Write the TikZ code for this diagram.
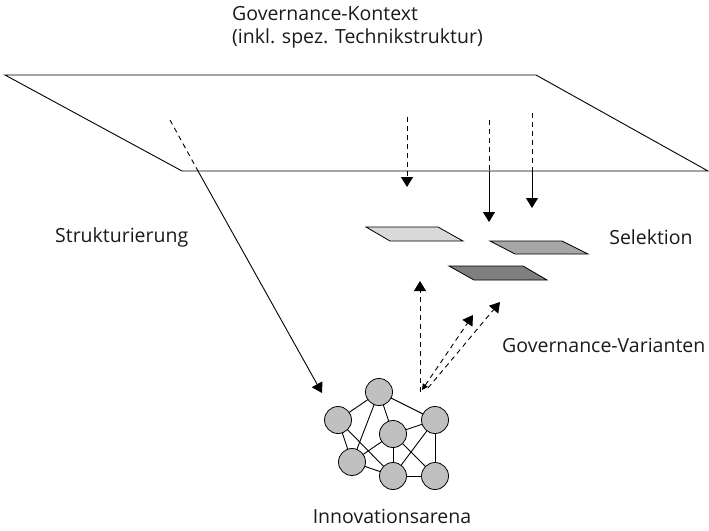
\documentclass[tikz,border=0pt]{standalone}
\usepackage{fontspec}
\setmainfont{Open Sans}
\usetikzlibrary{arrows.meta,backgrounds}
\definecolor{platelight}{HTML}{D9D9D9}
\definecolor{platemid}{HTML}{A6A6A6}
\definecolor{platedark}{HTML}{7F7F7F}
\definecolor{actorgray}{HTML}{C0C0C0}
\definecolor{labelgray}{HTML}{1A1A1A}

\begin{document}
\begin{tikzpicture}[x=1pt,y=-1pt,
    lbl/.style={font=\fontsize{19.5}{23}\selectfont, text=labelgray, inner sep=0pt},
    actor/.style={draw, circle, fill=actorgray, minimum size=27pt, inner sep=0pt, line width=0.8pt},
    tie/.style={line width=0.9pt},
    flow/.style={line width=0.9pt, -{Triangle[width=12pt,length=10pt]}},
    dashline/.style={line width=0.9pt, dash pattern=on 5pt off 4pt},
    dashflow/.style={flow, dashline},
    plate/.style={draw, line width=0.8pt}]
    \useasboundingbox (0,0) rectangle (709,530);

    % Governance context plane
    \draw[line width=0.9pt] (5,75) -- (536,75) -- (708,171) -- (182,171) -- cycle;

    % Governance variants
    \filldraw[plate, fill=platelight] (366,227) -- (438,227) -- (463,241) -- (390,241) -- cycle;
    \filldraw[plate, fill=platemid] (490,241) -- (562,241) -- (588,254) -- (515,254) -- cycle;
    \filldraw[plate, fill=platedark] (449,266) -- (523,266) -- (547,280) -- (474,280) -- cycle;

    % Innovation arena network
    \node[actor] (top) at (379,392) {};
    \node[actor] (left) at (338,420) {};
    \node[actor] (right) at (435,420) {};
    \node[actor] (mid) at (393,434) {};
    \node[actor] (botl) at (352,462) {};
    \node[actor] (botm) at (393,476) {};
    \node[actor] (botr) at (435,476) {};
    \begin{pgfonlayer}{background}
    \foreach \a/\b in {top/left, top/right, top/mid, top/botl, left/botl, left/botm,
                       mid/right, mid/botl, mid/botm, mid/botr, right/botm, right/botr,
                       botl/botm, botm/botr}
        \draw[tie] (\a.center) -- (\b.center);
    \end{pgfonlayer}

    % Structuring arrow
    \coordinate (s0) at (170,120);
    \coordinate (s1) at (198,171);
    \coordinate (s2) at (322,393);
    \draw[dashline] (s0) -- (s1);
    \draw[flow] (s1) -- (s2);

    % Selection arrows
    \coordinate (k1) at (407,117);
    \coordinate (k1e) at (407,187);
    \draw[dashflow] (k1) -- (k1e);
    \coordinate (k2) at (489,120);
    \coordinate (k2m) at (489,171);
    \coordinate (k2e) at (489,222);
    \draw[dashline] (k2) -- (k2m);
    \draw[flow] (k2m) -- (k2e);
    \coordinate (k3) at (532,113);
    \coordinate (k3m) at (532,171);
    \coordinate (k3e) at (532,208);
    \draw[dashline] (k3) -- (k3m);
    \draw[flow] (k3m) -- (k3e);

    % Variation arrows
    \coordinate (v0) at (420,392);
    \coordinate (v1) at (420,281);
    \draw[dashflow] (v0) -- (v1);
    \coordinate (w0) at (422,390);
    \coordinate (w1) at (473,315);
    \draw[dashflow, {Triangle[width=6pt,length=6pt]}-{Triangle[width=12pt,length=10pt]}] (w0) -- (w1);
    \coordinate (u0) at (428,388);
    \coordinate (u1) at (500,302);
    \draw[dashflow] (u0) -- (u1);

    % Labels
    \node[lbl, anchor=west, align=left] (kontext) at (232,27) {Governance-Kontext\\(inkl. spez. Technikstruktur)};
    \node[lbl, anchor=west] (struk) at (55,237) {Strukturierung};
    \node[lbl] (sel) at (651,237) {Selektion};
    \node[lbl, anchor=west] (var) at (502,345) {Governance-Varianten};
    \node[lbl] (arena) at (392,516) {Innovationsarena};
\end{tikzpicture}
\end{document}
